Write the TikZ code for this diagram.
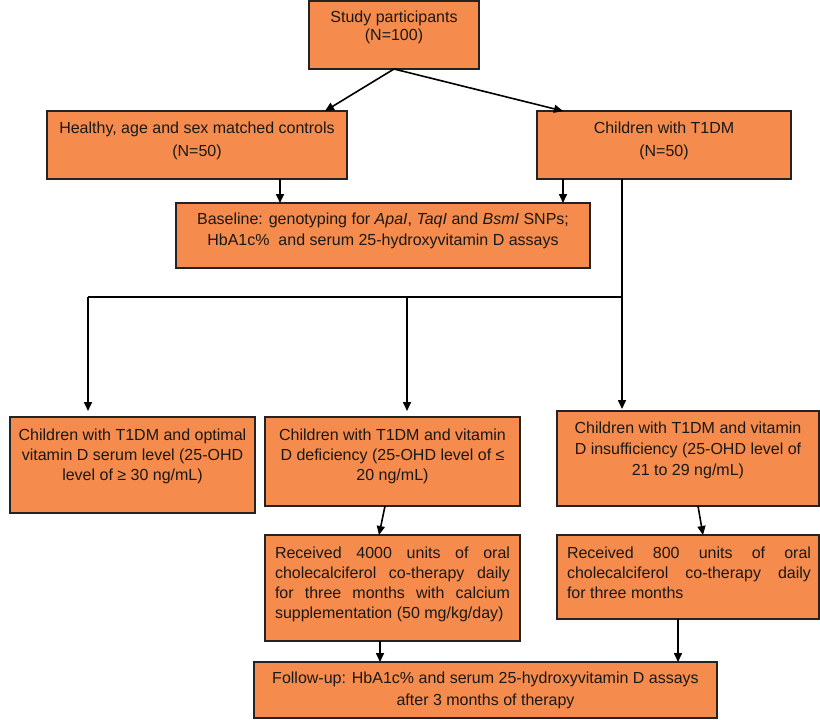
\documentclass[tikz,border=0pt]{standalone}
\usepackage{fontspec}
\setmainfont{Liberation Sans}
\usetikzlibrary{arrows.meta}
\definecolor{boxfill}{RGB}{245,139,76}
\definecolor{boxline}{RGB}{35,35,35}
\definecolor{txt}{RGB}{25,25,25}
\newcommand{\bxtext}[6]{\parbox[c][#2pt][t]{#1pt}{\fontsize{16}{#4}\selectfont\color{txt}\tolerance=10000\hbadness=10000\hyphenpenalty=10000\exhyphenpenalty=10000\parindent=0pt\parfillskip=0pt plus 1fil#5\rule{0pt}{#3pt}#6}}
\begin{document}
\begin{tikzpicture}[x=1pt,y=-1pt,
  bx/.style={draw=boxline,fill=boxfill,line width=1.6pt,inner sep=0pt,outer sep=0pt,anchor=north west},
  arr/.style={line width=1.6pt,-{Triangle[length=9pt,width=8pt]}},
  ln/.style={line width=1.6pt}]
\useasboundingbox (0,0) rectangle (820,720);
% boxes
\node[bx] (study) at (309,1) {\bxtext{170}{68}{21}{19}{\centering}{Study participants\\(N=100)}};
\node[bx] (healthy) at (47,111) {\bxtext{300}{68}{22.5}{23}{\centering}{Healthy, age and sex matched controls\\(N=50)}};
\node[bx] (t1dm) at (537,111) {\bxtext{254}{68}{22.5}{23}{\centering}{Children with T1DM\\(N=50)}};
\node[bx] (baseline) at (176,203) {\bxtext{414}{65}{21.5}{21}{\centering}{Baseline: genotyping for \textit{ApaI}, \textit{TaqI} and \textit{BsmI} SNPs;\\HbA1c\%\ \ and serum 25-hydroxyvitamin D assays}};
\node[bx] (optimal) at (10,417) {\bxtext{245}{96}{23.5}{20}{\centering}{Children with T1DM and optimal\\vitamin D serum level (25-OHD\\level of ≥ 30 ng/mL)}};
\node[bx] (deficiency) at (265,417) {\bxtext{255}{89}{23.5}{20}{\centering}{Children with T1DM and vitamin\\D deficiency (25-OHD level of ≤\\20 ng/mL)}};
\node[bx] (insuff) at (557,411) {\bxtext{262}{95}{22.5}{21}{\centering}{Children with T1DM and vitamin\\D insufficiency (25-OHD level of\\21 to 29 ng/mL)}};
\node[bx] (rec4000) at (265,535) {\bxtext{255}{106}{23.5}{20}{\leftskip=10pt\rightskip=10pt}{Received 4000 units of oral\linebreak cholecalciferol co-therapy daily\linebreak for three months with calcium\linebreak supplementation (50 mg/kg/day)}};
\node[bx] (rec800) at (557,535) {\bxtext{262}{84}{23.5}{20}{\leftskip=10pt\rightskip=8pt}{Received 800 units of oral\linebreak cholecalciferol co-therapy daily\linebreak for three months}};
\node[bx] (follow) at (254,662) {\bxtext{463}{56}{21.5}{22}{\centering}{Follow-up: HbA1c\% and serum 25-hydroxyvitamin D assays\\after 3 months of therapy}};
% coordinates
\coordinate (xa) at (280,0);
\coordinate (xb) at (563,0);
\coordinate (hub) at (622,297);
\coordinate (hubL) at (88,297);
\coordinate (xm) at (407,0);
\coordinate (xr4) at (380,0);
\coordinate (xr8) at (678,0);
% connectors
\draw[arr] (study.south) -- ([xshift=278pt]healthy.north west);
\draw[arr] (study.south) -- ([xshift=26pt]t1dm.north west);
\draw[arr] (healthy.south -| xa) -- (baseline.north -| xa);
\draw[arr] (t1dm.south -| xb) -- (baseline.north -| xb);
\draw[ln] (t1dm.south -| hub) -- (hub) -- (hubL);
\draw[arr,shorten >=6pt] (hubL) -- (optimal.north -| hubL);
\draw[arr,shorten >=6pt] (hub -| xm) -- (deficiency.north -| xm);
\draw[arr,shorten >=2pt] (hub) -- (insuff.north -| hub);
\draw[arr] ([xshift=120pt]deficiency.south west) -- ([xshift=114pt]rec4000.north west);
\draw[arr] ([xshift=141pt]insuff.south west) -- ([xshift=146pt]rec800.north west);
\draw[arr] (rec4000.south -| xr4) -- (follow.north -| xr4);
\draw[arr] (rec800.south -| xr8) -- (follow.north -| xr8);
\end{tikzpicture}
\end{document}
